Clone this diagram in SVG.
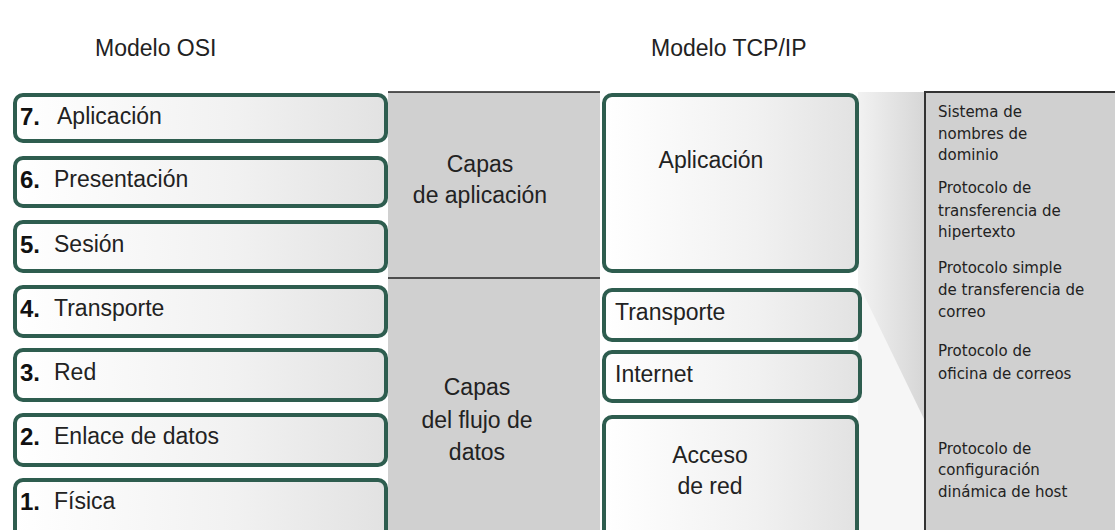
<svg xmlns="http://www.w3.org/2000/svg" width="1115" height="530" viewBox="0 0 1115 530">
<defs>
<linearGradient id="boxFill" x1="0" y1="0" x2="1" y2="0">
<stop offset="0" stop-color="#ffffff"/>
<stop offset="0.6" stop-color="#f1f1f1"/>
<stop offset="1" stop-color="#e2e2e2"/>
</linearGradient>
<linearGradient id="funnel" x1="0" y1="0" x2="1" y2="0">
<stop offset="0" stop-color="#f2f2f2"/>
<stop offset="1" stop-color="#d6d6d6"/>
</linearGradient>
<style>
.box{fill:url(#boxFill);stroke:#2e5d4f;stroke-width:4}
.t{font-family:"Liberation Sans",Arial,sans-serif;font-size:23px;fill:#222}
.n{font-family:"Liberation Sans",Arial,sans-serif;font-size:24px;font-weight:bold;fill:#111}
.c{font-family:"Liberation Sans",Arial,sans-serif;font-size:23px;fill:#222;text-anchor:middle}
.p{font-family:"DejaVu Sans",Verdana,sans-serif;font-size:15px;fill:#222}
.sep{stroke:#222;stroke-width:1.5}
</style>
</defs>
<rect width="1115" height="530" fill="#ffffff"/>

<g id="headers">
<text class="t" x="95" y="56">Modelo OSI</text>
<text class="t" x="651" y="56">Modelo TCP/IP</text>
</g>

<g id="middle-band">
<rect x="388" y="92" width="212" height="438" fill="#d0d0d0"/>
<line class="sep" x1="388" y1="92" x2="600" y2="92"/>
<line class="sep" x1="388" y1="278" x2="600" y2="278"/>
<text class="c" x="480" y="172">Capas</text>
<text class="c" x="480" y="203">de aplicación</text>
<text class="c" x="477" y="395">Capas</text>
<text class="c" x="477" y="428">del flujo de</text>
<text class="c" x="477" y="460">datos</text>
</g>

<g id="funnel-shape">
<rect x="858" y="92" width="67" height="438" fill="#f6f6f6"/>
<polygon points="858,92 925,92 925,421 858,283" fill="url(#funnel)"/>
</g>

<g id="osi-7"><rect class="box" x="15" y="95" width="371" height="46" rx="8"/><text class="n" x="20" y="125">7.</text><text class="t" x="57" y="124">Aplicación</text></g>
<g id="osi-6"><rect class="box" x="15" y="158" width="371" height="48" rx="8"/><text class="n" x="20" y="188">6.</text><text class="t" x="54" y="187">Presentación</text></g>
<g id="osi-5"><rect class="box" x="15" y="222" width="371" height="49" rx="8"/><text class="n" x="20" y="253">5.</text><text class="t" x="54" y="252">Sesión</text></g>
<g id="osi-4"><rect class="box" x="15" y="287" width="371" height="49" rx="8"/><text class="n" x="20" y="317">4.</text><text class="t" x="54" y="316">Transporte</text></g>
<g id="osi-3"><rect class="box" x="15" y="350" width="371" height="50" rx="8"/><text class="n" x="20" y="381">3.</text><text class="t" x="54" y="380">Red</text></g>
<g id="osi-2"><rect class="box" x="15" y="415" width="371" height="50" rx="8"/><text class="n" x="20" y="445">2.</text><text class="t" x="54" y="444">Enlace de datos</text></g>
<g id="osi-1"><rect class="box" x="15" y="480" width="371" height="62" rx="8"/><text class="n" x="20" y="510">1.</text><text class="t" x="54" y="509">Física</text></g>

<g id="tcp-aplicacion"><rect class="box" x="604" y="95" width="253" height="176" rx="8"/><text class="c" x="711" y="168">Aplicación</text></g>
<g id="tcp-transporte"><rect class="box" x="604" y="290" width="256" height="50" rx="8"/><text class="t" x="615" y="320">Transporte</text></g>
<g id="tcp-internet"><rect class="box" x="604" y="352" width="256" height="49" rx="8"/><text class="t" x="615" y="382">Internet</text></g>
<g id="tcp-acceso"><rect class="box" x="604" y="417" width="253" height="125" rx="8"/><text class="c" x="710" y="463">Acceso</text><text class="c" x="710" y="494">de red</text></g>

<g id="protocols">
<rect x="925" y="92" width="192" height="440" fill="#d0d0d0" stroke="#333" stroke-width="2"/>
<text class="p" x="938" y="117">Sistema de</text>
<text class="p" x="938" y="139">nombres de</text>
<text class="p" x="938" y="160">dominio</text>
<text class="p" x="938" y="193">Protocolo de</text>
<text class="p" x="938" y="216">transferencia de</text>
<text class="p" x="938" y="237">hipertexto</text>
<text class="p" x="938" y="273">Protocolo simple</text>
<text class="p" x="938" y="295">de transferencia de</text>
<text class="p" x="938" y="317">correo</text>
<text class="p" x="938" y="356">Protocolo de</text>
<text class="p" x="938" y="379">oficina de correos</text>
<text class="p" x="938" y="454">Protocolo de</text>
<text class="p" x="938" y="475">configuración</text>
<text class="p" x="938" y="497">dinámica de host</text>
</g>
</svg>
